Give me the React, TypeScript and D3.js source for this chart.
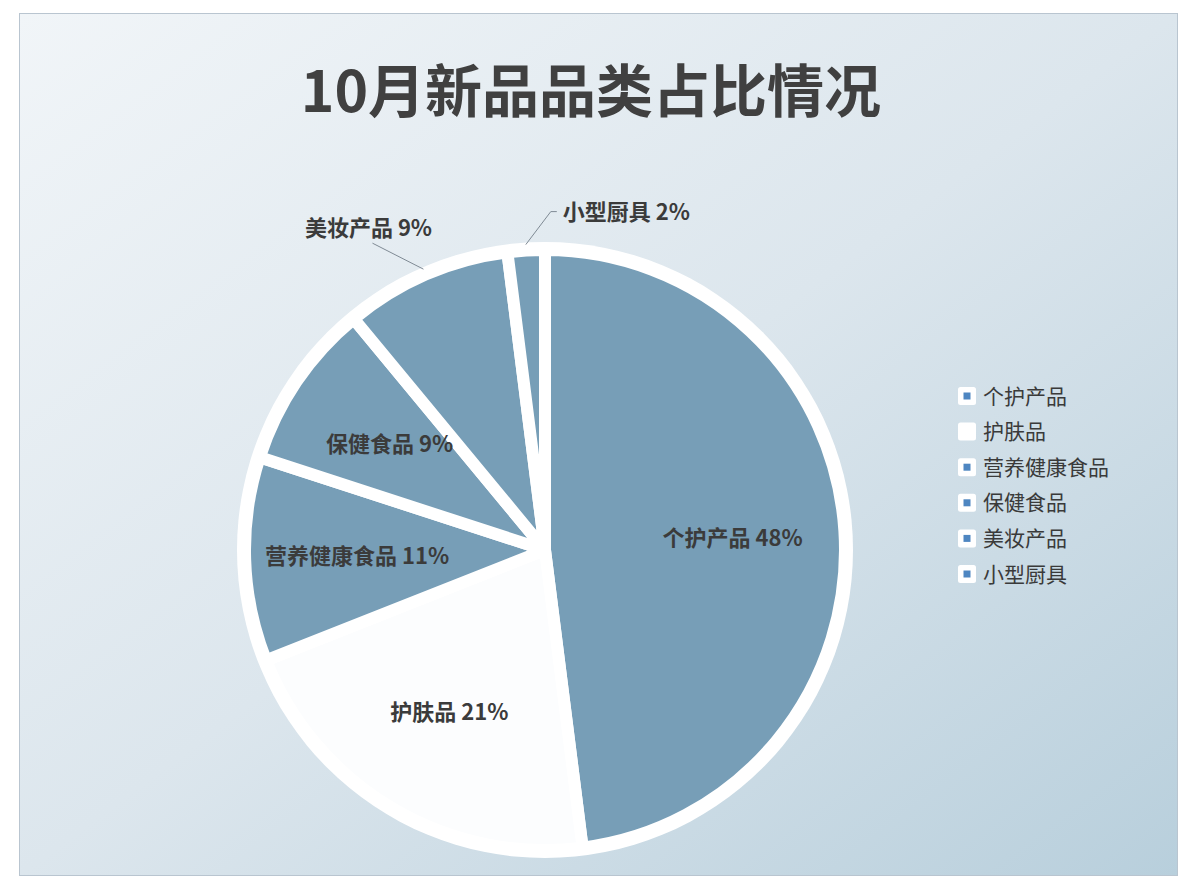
import React, { useMemo } from "react";
import { pie, arc, scalePoint } from "d3";

type Slice = { name: string; value: number };

const CATEGORIES = ["个护产品", "护肤品", "营养健康食品", "保健食品", "美妆产品", "小型厨具"];
const SHARES = [48, 21, 11, 9, 9, 2];
const TITLE = "10月新品品类占比情况";

const WIDTH = 1198;
const HEIGHT = 896;
const FRAME = { left: 19, top: 13, right: 1177, bottom: 875 };
const CENTER = { x: 545, y: 550 };
const RADIUS = 300;
const GAP = 12;
const LABEL_RADIUS = 188;

const BLUE = "#779eb7";
const PALE = "#fcfdfe";
const SWATCH = "#4e86c1";
const FILLS = [BLUE, PALE, BLUE, BLUE, BLUE, BLUE];
const SWATCH_FILLS = [SWATCH, "#ffffff", SWATCH, SWATCH, SWATCH, SWATCH];
const FONT = "'Noto Sans CJK SC', 'Noto Sans', sans-serif";

// labels that sit outside the pie with a leader line (offsets relative to the rim point)
const OUTSIDE: Record<string, { dx: number; dy: number; tail: number; anchor: "middle" | "start" }> = {
  美妆产品: { dx: -51, dy: -26, tail: 0, anchor: "middle" },
  小型厨具: { dx: 25, dy: -33, tail: 6, anchor: "start" },
};

export default function App() {
  const data: Slice[] = CATEGORIES.map((name, i) => ({ name, value: SHARES[i] }));

  const arcs = useMemo(() => pie<Slice>().sort(null).value((d) => d.value)(data), []);
  const sliceArc = arc<any>().innerRadius(0).outerRadius(RADIUS);
  const labelArc = arc<any>().innerRadius(LABEL_RADIUS).outerRadius(LABEL_RADIUS);
  const rimArc = arc<any>().innerRadius(RADIUS + GAP / 2).outerRadius(RADIUS + GAP / 2);

  const legendY = scalePoint<string>().domain(CATEGORIES).range([396, 574]);

  return (
    <svg
      width={WIDTH}
      height={HEIGHT}
      style={{ position: "absolute", left: 0, top: 0, display: "block" }}
    >
      <defs>
        <linearGradient id="bg" x1="0" y1="0" x2="1" y2="1">
          <stop offset="0" stopColor="#f1f5f8" />
          <stop offset="0.5" stopColor="#dce6ed" />
          <stop offset="1" stopColor="#b8cfdc" />
        </linearGradient>
      </defs>
      <rect x={0} y={0} width={WIDTH} height={HEIGHT} fill="#ffffff" />
      <rect
        x={FRAME.left + 0.5}
        y={FRAME.top + 0.5}
        width={FRAME.right - FRAME.left}
        height={FRAME.bottom - FRAME.top}
        fill="url(#bg)"
        stroke="#b9c5d0"
        strokeWidth={1}
      />

      {/* Title */}
      <text
        x={591}
        y={112}
        textAnchor="middle"
        fontFamily={FONT}
        fontSize={57}
        fontWeight={700}
        fill="#404040"
      >
        {TITLE}
      </text>

      {/* Pie */}
      <g transform={`translate(${CENTER.x},${CENTER.y})`}>
        <circle r={RADIUS + GAP / 2 + 2} fill="#ffffff" />
        {arcs.map((a, i) => (
          <path
            key={a.data.name}
            d={sliceArc(a) || ""}
            fill={FILLS[i]}
            stroke="#ffffff"
            strokeWidth={GAP}
            strokeLinejoin="round"
          />
        ))}

        {arcs.map((a) => {
          const label = `${a.data.name} ${a.data.value}%`;
          const out = OUTSIDE[a.data.name];
          if (!out) {
            const [lx, ly] = labelArc.centroid(a);
            return (
              <text
                key={a.data.name}
                x={lx}
                y={ly}
                dy="0.36em"
                textAnchor="middle"
                fontFamily={FONT}
                fontSize={22}
                fontWeight={700}
                fill="#3b3b3b"
                style={{ whiteSpace: "pre" }}
              >
                {label}
              </text>
            );
          }
          const [sx, sy] = rimArc.centroid(a);
          const ex = sx + out.dx;
          const ey = sy + out.dy;
          const tx = ex + out.tail;
          return (
            <g key={a.data.name}>
              <polyline
                points={`${sx},${sy} ${ex},${ey} ${tx},${ey}`}
                fill="none"
                stroke="#7f8a94"
                strokeWidth={1}
              />
              <text
                x={out.anchor === "start" ? tx + 6 : ex - 4}
                y={out.anchor === "start" ? ey : ey - 15}
                dy="0.36em"
                textAnchor={out.anchor}
                fontFamily={FONT}
                fontSize={22}
                fontWeight={700}
                fill="#3b3b3b"
              >
                {label}
              </text>
            </g>
          );
        })}
      </g>

      {/* Legend */}
      <g>
        {CATEGORIES.map((name, i) => {
          const y = legendY(name) ?? 0;
          return (
            <g key={name} transform={`translate(967,${y})`}>
              <rect x={-9} y={-9} width={18} height={18} rx={2.5} fill="#ffffff" />
              <rect x={-3.5} y={-3.5} width={7} height={7} fill={SWATCH_FILLS[i]} />
              <text
                x={16}
                y={0}
                dy="0.36em"
                fontFamily={FONT}
                fontSize={21}
                fill="#3a3a3a"
              >
                {name}
              </text>
            </g>
          );
        })}
      </g>
    </svg>
  );
}
